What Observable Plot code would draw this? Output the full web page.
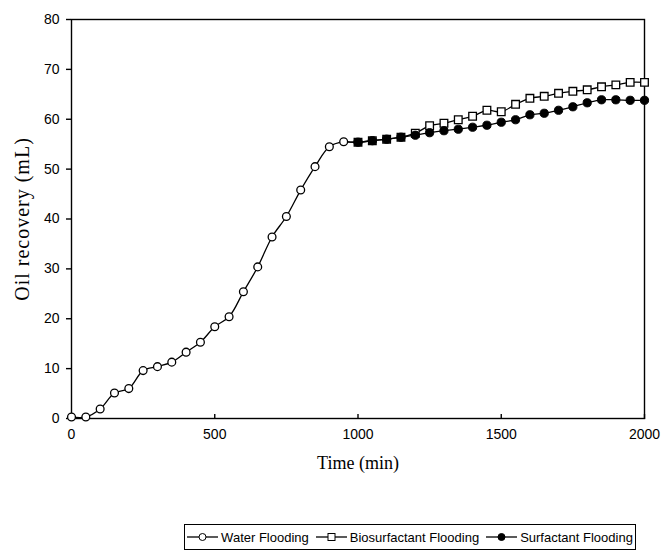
<!DOCTYPE html>
<html>
<head>
<meta charset="utf-8">
<script src="https://cdn.jsdelivr.net/npm/d3@7"></script>
<script src="https://cdn.jsdelivr.net/npm/@observablehq/plot@0.6"></script>
<style>
  body { margin: 0; background: #fff; }
  #chart svg { display: block; }
  #chart svg [aria-label="x-axis label"] text { font-family: "Liberation Serif", "Times New Roman", serif !important; font-size: 18px !important; }
  #chart svg [aria-label="y-axis label"] text { font-family: "Liberation Serif", "Times New Roman", serif !important; font-size: 20px !important; letter-spacing: 1px; }
  #legend { margin-left: 184px; margin-top: 2px; width: 450px; height: 24px; border: 1px solid #000;
    display: flex; align-items: center; justify-content: center; gap: 7px;
    font-family: "Liberation Sans", Arial, sans-serif; font-size: 13px; color: #000; box-sizing: content-box; }
  #legend .item { display: flex; align-items: center; gap: 3px; white-space: nowrap; }
</style>
</head>
<body>
<div id="chart"></div>
<div id="legend"></div>
<script>
// Time (min)
const waterTime = [0,50,100,150,200,250,300,350,400,450,500,550,600,650,700,750,800,850,900,950];
const waterFlooding = [0.3,0.3,1.9,5.1,6.0,9.6,10.4,11.3,13.3,15.3,18.4,20.4,25.4,30.4,36.4,40.5,45.8,50.5,54.5,55.5];
const laterTime = [1000,1050,1100,1150,1200,1250,1300,1350,1400,1450,1500,1550,1600,1650,1700,1750,1800,1850,1900,1950,2000];
const biosurfactantFlooding = [55.4,55.7,56.0,56.4,57.2,58.7,59.2,59.9,60.6,61.8,61.5,63.0,64.2,64.6,65.2,65.6,65.9,66.5,66.9,67.4,67.4];
const surfactantFlooding = [55.4,55.7,56.0,56.4,56.8,57.3,57.7,58.0,58.4,58.8,59.4,59.9,60.9,61.2,61.8,62.5,63.3,63.9,63.9,63.8,63.8];
const xTicks = [0,500,1000,1500,2000];
const yTicks = [0,10,20,30,40,50,60,70,80];
const seriesNames = ["Water Flooding", "Biosurfactant Flooding", "Surfactant Flooding"];

const water = waterTime.map((t, i) => ({t, v: waterFlooding[i]}));
const bio = laterTime.map((t, i) => ({t, v: biosurfactantFlooding[i]}));
const surf = laterTime.map((t, i) => ({t, v: surfactantFlooding[i]}));
const last = water[water.length - 1];
const bioLine = [last, ...bio];
const surfLine = [last, ...surf];

const tickFont = "'Liberation Sans', Arial, sans-serif";
const plot = Plot.plot({
  width: 662,
  height: 522,
  marginLeft: 71,
  marginRight: 18,
  marginTop: 19,
  marginBottom: 104,
  style: {fontFamily: tickFont, fontSize: "14px", color: "#000", background: "#fff"},
  x: {domain: [0, 2000]},
  y: {domain: [0, 80]},
  marks: [
    Plot.frame({stroke: "#000", strokeWidth: 1.4}),
    Plot.axisY(yTicks, {anchor: "left", tickSize: 5, tickPadding: 7, strokeWidth: 1.4, fontSize: 14, tickFormat: "d",
      label: "Oil recovery (mL)", labelAnchor: "center", labelArrow: "none", labelOffset: 57}),
    Plot.axisX(xTicks, {anchor: "top", frameAnchor: "bottom", tickSize: 5, text: null, label: null, strokeWidth: 1.4}),
    Plot.axisX(xTicks, {anchor: "bottom", tickSize: 0, tickPadding: 11, fontSize: 14, tickFormat: "d",
      label: "Time (min)", labelAnchor: "center", labelArrow: "none", labelOffset: 50}),
    Plot.line(water, {x: "t", y: "v", curve: "catmull-rom", stroke: "#000", strokeWidth: 1.3}),
    Plot.line(bioLine, {x: "t", y: "v", curve: "catmull-rom", stroke: "#000", strokeWidth: 1.3}),
    Plot.line(surfLine, {x: "t", y: "v", curve: "catmull-rom", stroke: "#000", strokeWidth: 1.3}),
    Plot.dot(water, {x: "t", y: "v", r: 3.9, symbol: "circle", fill: "#fff", stroke: "#000", strokeWidth: 1.3}),
    Plot.dot(bio, {x: "t", y: "v", r: 4.3, symbol: "square", fill: "#fff", stroke: "#000", strokeWidth: 1.3}),
    Plot.dot(surf, {x: "t", y: "v", r: 4.1, symbol: "circle", fill: "#000", stroke: "#000", strokeWidth: 1})
  ]
});
document.getElementById("chart").appendChild(plot);

// Legend
const legend = d3.select("#legend");
const symbols = ["openCircle", "openSquare", "filledCircle"];
seriesNames.forEach((name, i) => {
  const item = legend.append("div").attr("class", "item");
  const s = item.append("svg").attr("width", 31).attr("height", 12);
  s.append("line").attr("x1", 0).attr("x2", 31).attr("y1", 6).attr("y2", 6).attr("stroke", "#000").attr("stroke-width", 1.3);
  if (symbols[i] === "openSquare") {
    s.append("rect").attr("x", 12).attr("y", 2.5).attr("width", 7).attr("height", 7).attr("fill", "#fff").attr("stroke", "#000");
  } else {
    s.append("circle").attr("cx", 15.5).attr("cy", 6).attr("r", 3.5)
      .attr("fill", symbols[i] === "filledCircle" ? "#000" : "#fff").attr("stroke", "#000");
  }
  item.append("span").text(name);
});
</script>
</body>
</html>
